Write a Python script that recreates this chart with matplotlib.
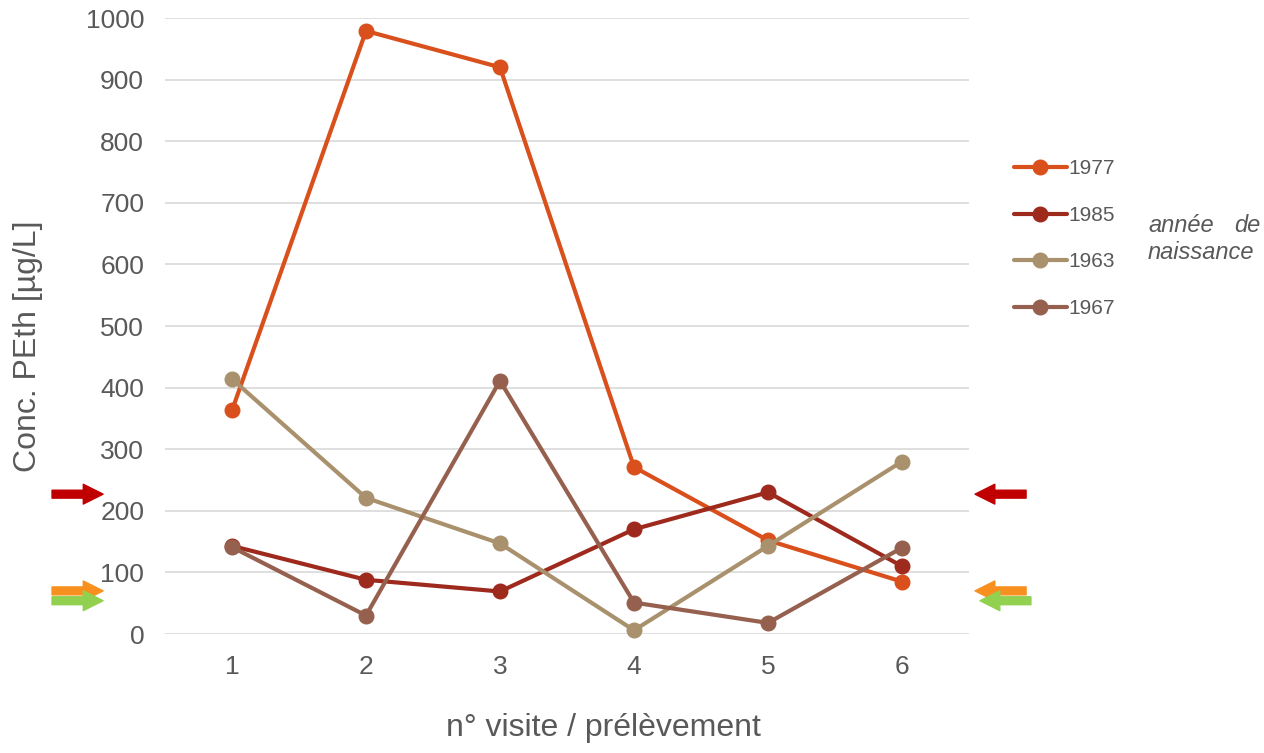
import numpy as np
import matplotlib
matplotlib.use('Agg')
import matplotlib.pyplot as plt

plt.rcParams['font.family'] = ['Liberation Sans', 'DejaVu Sans']

# ─── Data ───
visits = [1, 2, 3, 4, 5, 6]
years = ['1977', '1985', '1963', '1967']
conc_1977 = [363, 979, 920, 271, 152, 85]
conc_1985 = [143, 88, 69, 170, 230, 110]
conc_1963 = [414, 221, 147, 6, 143, 280]
conc_1967 = [141, 30, 411, 51, 18, 140]
series = [conc_1977, conc_1985, conc_1963, conc_1967]
colors = ['#D9501C', '#9E2A1E', '#A8916C', '#96604F']

# reference levels marked by the side arrows
arrow_levels = [227, 70, 54]
arrow_colors = ['#C00000', '#F7901E', '#92D050']

grey = '#595959'

fig = plt.figure(figsize=(12.64, 7.53), dpi=100)
ax = fig.add_axes([165 / 1264, 1 - 634 / 753, 804 / 1264, 616 / 753])

for vals, lab, c in zip(series, years, colors):
    ax.plot(visits, vals, color=c, lw=3, marker='o', ms=10.5,
            solid_capstyle='round', label=lab, clip_on=False)

ax.set_xlim(0.5, 6.5)
ax.set_ylim(0, 1000)
ax.set_yticks(np.arange(0, 1001, 100))
ax.set_xticks(visits)
ax.grid(axis='y', color='#D9D9D9', lw=1.2)
ax.set_axisbelow(True)
for s in ax.spines.values():
    s.set_visible(False)
ax.tick_params(length=0, labelsize=19, colors=grey)
ax.tick_params(axis='y', pad=15)
ax.tick_params(axis='x', pad=15)

ax.set_ylabel('Conc. PEth [µg/L]', fontsize=23, color=grey)
ax.yaxis.set_label_coords(-0.152, 0.4675)
ax.set_xlabel('n° visite / prélèvement', fontsize=23, color=grey)
ax.xaxis.set_label_coords(0.5448, -0.128)

# side arrows (left pointing right, right pointing left)
style = 'simple,head_length=0.95,head_width=0.95,tail_width=0.38'
left_x = [(-0.1405, -0.077), (-0.1405, -0.077), (-0.1405, -0.077)]
right_x = [(1.071, 1.0075), (1.071, 1.0075), (1.077, 1.0137)]
for lev, c, lx, rx in zip(arrow_levels, arrow_colors, left_x, right_x):
    for x0, x1 in (lx, rx):
        ax.annotate('', xy=(x1, lev), xytext=(x0, lev),
                    xycoords=('axes fraction', 'data'),
                    textcoords=('axes fraction', 'data'),
                    arrowprops=dict(arrowstyle=style, color=c,
                                    mutation_scale=15, shrinkA=0, shrinkB=0),
                    annotation_clip=False)

leg = ax.legend(loc='upper left', bbox_to_anchor=(1.045, 0.784), frameon=False,
                fontsize=15, handlelength=2.55, handletextpad=0.1,
                labelspacing=1.32, borderaxespad=0)
for t in leg.get_texts():
    t.set_color(grey)

fig.text(1148 / 1264, 1 - 226 / 753, 'année', fontsize=17, style='italic',
         color=grey, va='center', ha='left')
fig.text(1260 / 1264, 1 - 226 / 753, 'de', fontsize=17, style='italic',
         color=grey, va='center', ha='right')
fig.text(1148 / 1264, 1 - 253 / 753, 'naissance', fontsize=17, style='italic',
         color=grey, va='center', ha='left')

fig.savefig('out.png', dpi=100)
